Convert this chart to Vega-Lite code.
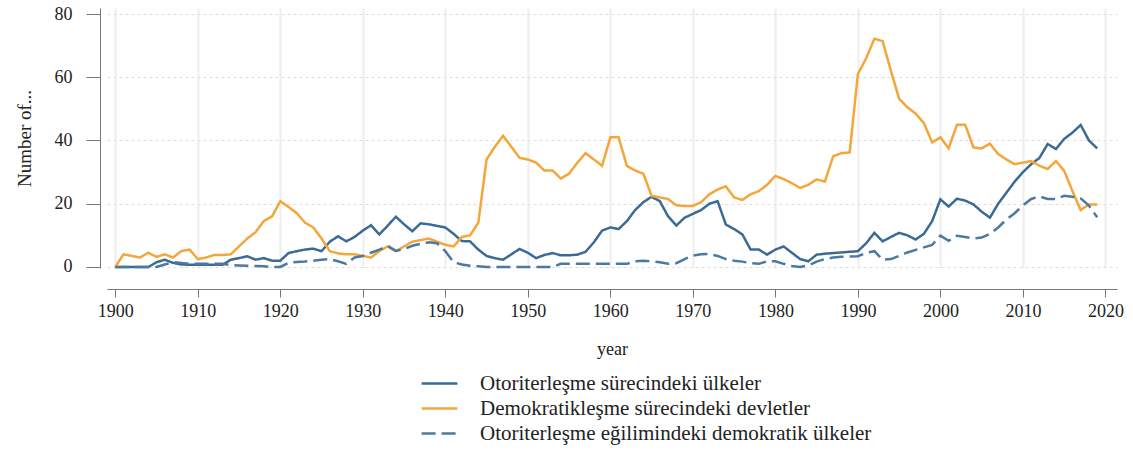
{
  "$schema": "https://vega.github.io/schema/vega-lite/v6.json",
  "width": 1010,
  "height": 260,
  "autosize": {"type": "none"},
  "padding": {"left": 107, "top": 8, "right": 16, "bottom": 182},
  "background": "white",
  "config": {
    "view": {"stroke": null},
    "font": "Liberation Serif",
    "axis": {"labelFont": "Liberation Serif", "titleFont": "Liberation Serif", "titleFontWeight": "normal", "labelColor": "#222", "titleColor": "#222", "domainColor": "#777", "tickColor": "#777"},
    "legend": {"labelFont": "Liberation Serif"}
  },
  "data": {
    "values": [
      {"year":1900,"oto":0,"dem":0,"egl":0},
      {"year":1901,"oto":0,"dem":4,"egl":0},
      {"year":1902,"oto":0,"dem":3.5,"egl":0},
      {"year":1903,"oto":0,"dem":3,"egl":0},
      {"year":1904,"oto":0,"dem":4.5,"egl":0},
      {"year":1905,"oto":1.5,"dem":3.2,"egl":0},
      {"year":1906,"oto":2.3,"dem":4,"egl":0.8},
      {"year":1907,"oto":1.3,"dem":3,"egl":1.5},
      {"year":1908,"oto":0.8,"dem":5,"egl":1.3},
      {"year":1909,"oto":0.7,"dem":5.5,"egl":1},
      {"year":1910,"oto":0.7,"dem":2.5,"egl":1},
      {"year":1911,"oto":0.7,"dem":3,"egl":1},
      {"year":1912,"oto":0.7,"dem":3.8,"egl":1},
      {"year":1913,"oto":0.7,"dem":3.8,"egl":1},
      {"year":1914,"oto":2.3,"dem":4,"egl":0.6},
      {"year":1915,"oto":2.8,"dem":6.5,"egl":0.5},
      {"year":1916,"oto":3.4,"dem":9,"egl":0.4},
      {"year":1917,"oto":2.3,"dem":11,"egl":0.3},
      {"year":1918,"oto":2.8,"dem":14.5,"egl":0.2},
      {"year":1919,"oto":2,"dem":16,"egl":0},
      {"year":1920,"oto":2,"dem":20.8,"egl":0},
      {"year":1921,"oto":4.4,"dem":19,"egl":1.3},
      {"year":1922,"oto":5,"dem":17,"egl":1.6},
      {"year":1923,"oto":5.5,"dem":14,"egl":1.7},
      {"year":1924,"oto":5.8,"dem":12.5,"egl":2},
      {"year":1925,"oto":5,"dem":9,"egl":2.3},
      {"year":1926,"oto":8,"dem":5,"egl":2.5},
      {"year":1927,"oto":9.7,"dem":4.3,"egl":1.8},
      {"year":1928,"oto":8.1,"dem":4,"egl":1},
      {"year":1929,"oto":9.5,"dem":4,"egl":3},
      {"year":1930,"oto":11.5,"dem":3.5,"egl":3.5},
      {"year":1931,"oto":13.2,"dem":3,"egl":4.5},
      {"year":1932,"oto":10.3,"dem":5,"egl":5.5},
      {"year":1933,"oto":13,"dem":6.5,"egl":6.7},
      {"year":1934,"oto":15.9,"dem":5,"egl":5.1},
      {"year":1935,"oto":13.5,"dem":6.5,"egl":5.7},
      {"year":1936,"oto":11.3,"dem":8,"egl":6.7},
      {"year":1937,"oto":13.8,"dem":8.5,"egl":7.3},
      {"year":1938,"oto":13.5,"dem":9,"egl":7.8},
      {"year":1939,"oto":13,"dem":8,"egl":7.5},
      {"year":1940,"oto":12.5,"dem":7,"egl":5},
      {"year":1941,"oto":10.5,"dem":6.5,"egl":1.5},
      {"year":1942,"oto":8.2,"dem":9.5,"egl":0.8},
      {"year":1943,"oto":8.1,"dem":10,"egl":0.4},
      {"year":1944,"oto":5.5,"dem":14,"egl":0.2},
      {"year":1945,"oto":3.5,"dem":34,"egl":0},
      {"year":1946,"oto":2.8,"dem":38,"egl":0},
      {"year":1947,"oto":2.3,"dem":41.5,"egl":0},
      {"year":1948,"oto":4,"dem":38,"egl":0},
      {"year":1949,"oto":5.7,"dem":34.5,"egl":0},
      {"year":1950,"oto":4.5,"dem":34,"egl":0},
      {"year":1951,"oto":2.8,"dem":33,"egl":0},
      {"year":1952,"oto":3.8,"dem":30.5,"egl":0},
      {"year":1953,"oto":4.4,"dem":30.5,"egl":0},
      {"year":1954,"oto":3.7,"dem":28,"egl":1},
      {"year":1955,"oto":3.7,"dem":29.5,"egl":1},
      {"year":1956,"oto":3.9,"dem":33,"egl":1},
      {"year":1957,"oto":4.8,"dem":36,"egl":1},
      {"year":1958,"oto":7.8,"dem":34,"egl":1},
      {"year":1959,"oto":11.5,"dem":32,"egl":1},
      {"year":1960,"oto":12.5,"dem":41,"egl":1},
      {"year":1961,"oto":12,"dem":41,"egl":1},
      {"year":1962,"oto":14.5,"dem":32,"egl":1},
      {"year":1963,"oto":18,"dem":30.5,"egl":1.8},
      {"year":1964,"oto":20.5,"dem":29.5,"egl":2},
      {"year":1965,"oto":22.2,"dem":22.5,"egl":1.8},
      {"year":1966,"oto":20.8,"dem":22,"egl":1.5},
      {"year":1967,"oto":16,"dem":21.5,"egl":1},
      {"year":1968,"oto":13.1,"dem":19.5,"egl":1.2},
      {"year":1969,"oto":15.6,"dem":19.3,"egl":2.5},
      {"year":1970,"oto":16.8,"dem":19.3,"egl":3.6},
      {"year":1971,"oto":18,"dem":20.5,"egl":4},
      {"year":1972,"oto":20,"dem":23,"egl":4.1},
      {"year":1973,"oto":20.8,"dem":24.5,"egl":3.5},
      {"year":1974,"oto":13.4,"dem":25.5,"egl":2.5},
      {"year":1975,"oto":12,"dem":22,"egl":2},
      {"year":1976,"oto":10.3,"dem":21.2,"egl":1.7},
      {"year":1977,"oto":5.5,"dem":23,"egl":1.2},
      {"year":1978,"oto":5.5,"dem":24,"egl":1},
      {"year":1979,"oto":3.9,"dem":26,"egl":1.8},
      {"year":1980,"oto":5.5,"dem":28.8,"egl":1.8},
      {"year":1981,"oto":6.5,"dem":27.8,"egl":1},
      {"year":1982,"oto":4.5,"dem":26.5,"egl":0.3},
      {"year":1983,"oto":2.5,"dem":25,"egl":0},
      {"year":1984,"oto":1.8,"dem":26,"egl":0.5},
      {"year":1985,"oto":3.9,"dem":27.7,"egl":1.7},
      {"year":1986,"oto":4.2,"dem":27,"egl":2.5},
      {"year":1987,"oto":4.4,"dem":35,"egl":3},
      {"year":1988,"oto":4.6,"dem":36,"egl":3.2},
      {"year":1989,"oto":4.8,"dem":36.2,"egl":3.3},
      {"year":1990,"oto":5,"dem":61,"egl":3.4},
      {"year":1991,"oto":7.5,"dem":66,"egl":4.5},
      {"year":1992,"oto":10.8,"dem":72.2,"egl":5},
      {"year":1993,"oto":8.1,"dem":71.4,"egl":2.3},
      {"year":1994,"oto":9.5,"dem":62,"egl":2.5},
      {"year":1995,"oto":10.8,"dem":53.2,"egl":3.5},
      {"year":1996,"oto":10,"dem":50.5,"egl":4.6},
      {"year":1997,"oto":8.7,"dem":48.5,"egl":5.4},
      {"year":1998,"oto":10.5,"dem":45.5,"egl":6.2},
      {"year":1999,"oto":14.5,"dem":39.4,"egl":7},
      {"year":2000,"oto":21.4,"dem":41,"egl":9.9},
      {"year":2001,"oto":19.1,"dem":37.5,"egl":8.3},
      {"year":2002,"oto":21.6,"dem":45,"egl":9.9},
      {"year":2003,"oto":21,"dem":45,"egl":9.5},
      {"year":2004,"oto":19.8,"dem":37.8,"egl":9},
      {"year":2005,"oto":17.5,"dem":37.5,"egl":9.3},
      {"year":2006,"oto":15.6,"dem":39,"egl":10.5},
      {"year":2007,"oto":20,"dem":35.7,"egl":12.5},
      {"year":2008,"oto":23.5,"dem":34,"egl":15},
      {"year":2009,"oto":27,"dem":32.5,"egl":17},
      {"year":2010,"oto":30,"dem":33,"egl":19.5},
      {"year":2011,"oto":32.5,"dem":33.5,"egl":21.5},
      {"year":2012,"oto":34.5,"dem":32,"egl":22.3},
      {"year":2013,"oto":38.9,"dem":31,"egl":21.5},
      {"year":2014,"oto":37.3,"dem":33.5,"egl":21.5},
      {"year":2015,"oto":40.5,"dem":30.4,"egl":22.5},
      {"year":2016,"oto":42.5,"dem":24,"egl":22.2},
      {"year":2017,"oto":44.9,"dem":18,"egl":21.7},
      {"year":2018,"oto":40,"dem":19.8,"egl":19.4},
      {"year":2019,"oto":37.5,"dem":19.8,"egl":15.7}
    ]
  },
  "transform": [{"fold": ["oto", "dem", "egl"], "as": ["series", "value"]}],
  "mark": {"type": "line", "strokeWidth": 2.5, "interpolate": "linear"},
  "encoding": {
    "x": {
      "field": "year", "type": "quantitative",
      "scale": {"domain": [1899, 2021.4], "nice": false, "zero": false},
      "axis": {
        "title": "year", "titleFontSize": 18, "titlePadding": 20,
        "values": [1900,1910,1920,1930,1940,1950,1960,1970,1980,1990,2000,2010,2020],
        "format": "d", "labelFontSize": 18, "labelPadding": 5,
        "offset": 21, "tickSize": 8, "labelFlush": false,
        "grid": true, "gridColor": "#eeeeee", "gridWidth": 2
      }
    },
    "y": {
      "field": "value", "type": "quantitative",
      "scale": {"domain": [-0.32, 81.9], "nice": false, "zero": false},
      "axis": {
        "title": "Number of...", "titleFontSize": 19, "titlePadding": 20,
        "values": [0, 20, 40, 60, 80], "labelFontSize": 18, "labelPadding": 14,
        "offset": 7, "tickSize": 14,
        "grid": true, "gridColor": "#dedede", "gridDash": [3, 3], "gridWidth": 1
      }
    },
    "color": {
      "field": "series", "type": "nominal",
      "scale": {"domain": ["oto", "dem", "egl"], "range": ["#3b6b95", "#f4a63a", "#4c79a0"]},
      "legend": {
        "title": null, "orient": "none", "legendX": 320, "legendY": 363,
        "direction": "vertical", "symbolType": "M-1.6,0H1.6", "symbolSize": 500,
        "symbolStrokeWidth": 2.5, "labelFontSize": 21, "labelColor": "#222",
        "labelLimit": 0, "rowPadding": 2, "padding": 0, "labelOffset": 28,
        "labelExpr": "datum.value == 'oto' ? 'Otoriterleşme sürecindeki ülkeler' : datum.value == 'dem' ? 'Demokratikleşme sürecindeki devletler' : 'Otoriterleşme eğilimindeki demokratik ülkeler'"
      }
    },
    "strokeDash": {
      "field": "series", "type": "nominal",
      "scale": {"domain": ["oto", "dem", "egl"], "range": [[1, 0], [1, 0], [14, 6]]},
      "legend": null
    }
  }
}
